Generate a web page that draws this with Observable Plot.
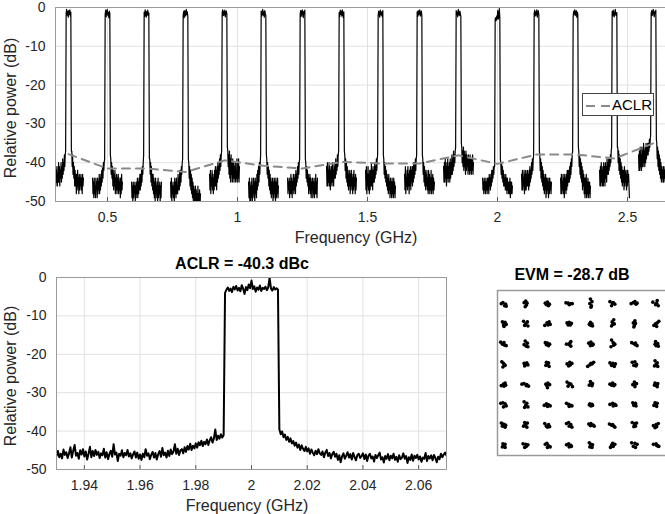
<!DOCTYPE html>
<html><head><meta charset="utf-8">
<script src="https://cdn.jsdelivr.net/npm/d3@7"></script>
<script src="https://cdn.jsdelivr.net/npm/@observablehq/plot@0.6"></script>
<style>
html,body{margin:0;padding:0;background:#fff;overflow:hidden;width:665px;height:514px;}
#wrap{position:relative;width:665px;height:514px;overflow:hidden;font-family:"Liberation Sans",Arial,sans-serif;color:#262626;}
.pane{position:absolute;}
.pane svg{max-width:none !important;}
.lbl{position:absolute;font-size:16px;white-space:nowrap;transform:translate(-50%,-50%);line-height:1;}
.ylbl{position:absolute;font-size:16px;white-space:nowrap;transform:translate(-50%,-50%) rotate(-90deg);line-height:1;}
.ttl{position:absolute;font-size:16px;font-weight:bold;white-space:nowrap;transform:translate(-50%,-50%);color:#000;line-height:1;}
#legend{position:absolute;left:582px;top:93px;width:72px;height:23px;background:#fff;border:1px solid #444;box-sizing:border-box;}
#legend span{position:absolute;left:29px;top:3px;font-size:15px;color:#000;line-height:1;}
#legend svg{position:absolute;left:2px;top:10px;}
</style></head>
<body><div id="wrap">
<div class="pane" id="top" style="left:0;top:0"></div>
<div class="pane" id="bot" style="left:0;top:270px"></div>
<div class="pane" id="evm" style="left:480px;top:262px"></div>
<div id="legend"><svg width="26" height="4"><line x1="1" y1="2" x2="25" y2="2" stroke="#8a8a8a" stroke-width="2" stroke-dasharray="9,6"/></svg><span>ACLR</span></div>
<div class="ylbl" style="left:11px;top:108px">Relative power (dB)</div>
<div class="lbl" style="left:356px;top:238px">Frequency (GHz)</div>
<div class="ttl" style="left:242px;top:264px">ACLR = -40.3 dBc</div>
<div class="ylbl" style="left:11px;top:376px">Relative power (dB)</div>
<div class="lbl" style="left:247px;top:506px">Frequency (GHz)</div>
<div class="ttl" style="left:572px;top:275px">EVM = -28.7 dB</div>
</div>
<script>
// ---------- top: multi-channel spectrum ----------
const topXTicks = [0.5, 1, 1.5, 2, 2.5];
const powerTicks = [0, -10, -20, -30, -40, -50];
const chCenters = [0.35, 0.5, 0.65, 0.8, 0.95, 1.1, 1.25, 1.4, 1.55, 1.7, 1.85, 2.0, 2.15, 2.3, 2.45, 2.6];
const aclrValues = [-37.8, -41.5, -41.5, -42.4, -39.4, -40.8, -41.5, -39.8, -40.2, -40.2, -38.1, -40.3, -37.9, -37.9, -38.9, -35.0];
const chStep = 0.0016;      // sample spacing of the per-channel traces (GHz)
const chEdge = 0.011;       // offset of the channel shoulder samples (GHz)
const chHalfBw = 0.009;     // offset of first/last in-band sample (GHz)
const chLeft = [
[-41,-46,-42,-45,-40,-46,-42,-45,-41,-46,-43,-45,-40,-45,-41,-46,-42,-44,-40,-45,-41,-44,-39,-43,-40,-42,-38,-41,-38],
[-44,-48,-45,-49,-44,-48,-46,-49,-44,-47,-45,-49,-44,-48,-45,-47,-43,-48,-44,-47,-43,-46,-42,-45,-41,-44,-40,-42,-40],
[-45,-49,-46,-50,-45,-49,-46,-48,-45,-50,-46,-49,-45,-48,-44,-49,-45,-48,-44,-47,-43,-47,-43,-46,-42,-45,-41,-43,-40],
[-45,-49,-44,-50,-46,-48,-45,-49,-46,-50,-44,-48,-45,-49,-44,-48,-46,-48,-43,-47,-44,-47,-42,-46,-42,-45,-41,-43,-40],
[-43,-47,-42,-48,-44,-46,-42,-47,-43,-48,-44,-47,-42,-46,-41,-46,-42,-47,-41,-45,-40,-44,-41,-43,-39,-42,-38,-41,-38],
[-45,-49,-44,-50,-46,-50,-45,-49,-44,-50,-46,-48,-44,-49,-45,-50,-44,-48,-45,-49,-43,-47,-42,-46,-41,-45,-40,-43,-40],
[-44,-48,-45,-47,-44,-49,-45,-48,-43,-48,-44,-49,-45,-47,-43,-48,-44,-47,-43,-48,-42,-46,-43,-45,-41,-44,-40,-43,-40],
[-41,-46,-40,-46,-42,-45,-40,-46,-41,-47,-42,-45,-41,-46,-40,-45,-42,-46,-40,-44,-41,-44,-39,-43,-40,-42,-38,-41,-38],
[-42,-47,-41,-48,-43,-46,-41,-47,-43,-48,-42,-47,-42,-46,-40,-46,-42,-47,-41,-45,-42,-45,-40,-44,-41,-43,-39,-42,-39],
[-43,-47,-41,-48,-44,-46,-42,-47,-41,-46,-43,-48,-42,-46,-41,-47,-42,-45,-41,-46,-41,-45,-40,-44,-40,-43,-39,-42,-39],
[-41,-45,-40,-45,-39,-44,-41,-46,-40,-44,-39,-45,-41,-44,-40,-45,-39,-44,-40,-43,-38,-43,-39,-42,-37,-41,-38,-40,-37],
[-44,-47,-45,-48,-44,-47,-45,-48,-44,-47,-45,-48,-44,-47,-44,-48,-43,-46,-44,-47,-43,-46,-42,-45,-42,-44,-41,-43,-41],
[-43,-47,-42,-47,-44,-46,-42,-48,-43,-47,-42,-47,-43,-46,-42,-46,-43,-47,-42,-46,-41,-45,-42,-44,-40,-43,-39,-42,-39],
[-44,-48,-43,-48,-45,-47,-43,-48,-44,-49,-43,-47,-44,-48,-43,-47,-42,-46,-42,-45,-42,-45,-41,-44,-40,-43,-39,-41,-38],
[-42,-46,-41,-46,-40,-45,-42,-46,-41,-46,-40,-45,-41,-46,-40,-44,-41,-45,-39,-43,-40,-43,-39,-42,-39,-41,-38,-40,-37],
[-38,-42,-37,-42,-36,-41,-38,-42,-36,-41,-37,-41,-35,-40,-37,-41,-36,-40,-35,-39,-36,-38,-35,-38,-35,-37,-34,-36,-34]
];
const chEdgeL = [-37,-39,-38,-39,-37,-38,-39,-37,-38,-38,-36,-41,-38,-37,-36,-33];
const chTop = [
[-1.5,-0.5,-2,-1,-2.5,-0.8,-1.8,-0.6,-2.2,-1.2],
[-1.8,-0.7,-2.4,-1.1,-0.5,-2,-1.3,-2.6,-0.9,-1.6],
[-1.2,-2.3,-0.6,-1.7,-2.5,-1,-1.9,-0.7,-2.1,-1.4],
[-2,-1,-2.6,-0.8,-1.5,-2.2,-0.5,-1.8,-1.1,-2.4],
[-1.4,-0.6,-2.1,-1,-1.9,-0.7,-2.4,-1.2,-0.9,-1.7],
[-0.9,-2.2,-1.4,-0.5,-2,-1.1,-2.5,-0.8,-1.6,-2.1],
[-1.7,-0.8,-2.3,-1.2,-0.6,-1.9,-2.6,-1,-1.5,-0.7],
[-1.3,-2.4,-0.7,-1.8,-1,-2.2,-0.6,-1.5,-2.6,-1.1],
[-2.1,-0.9,-1.6,-2.5,-0.7,-1.4,-2,-1.1,-2.4,-0.8],
[-1.1,-2.3,-0.8,-1.9,-1.4,-0.6,-2.2,-1.7,-0.9,-2],
[-0.8,-1.9,-1.2,-2.4,-0.5,-1.6,-2.1,-0.9,-1.5,-2.3],
[-3,-2.6,-3.4,-2.2,-2.9,-0.8,-3,-2.4,-0.3,-2.8],
[-1.5,-0.7,-2.2,-1.1,-1.9,-0.6,-2.5,-1.3,-0.8,-2],
[-2.3,-1,-1.7,-0.6,-2.1,-1.4,-0.8,-2.5,-1.2,-1.8],
[-1,-2.2,-0.7,-1.6,-2.4,-1.2,-0.5,-1.9,-2.1,-1.3],
[-1.6,-0.8,-2.1,-1.2,-0.5,-1.8,-2.4,-1,-1.5,-0.7]
];
const chEdgeR = [-37,-38,-39,-39,-36,-38,-39,-37,-38,-38,-35,-39,-37,-36,-36,-34];
const chRight = [
[-37,-41,-38,-43,-40,-44,-41,-46,-42,-46,-43,-48,-43,-47,-42,-46,-44,-48,-43,-47,-44,-46,-43,-47,-44,-48,-43,-46,-44],
[-39,-43,-40,-44,-41,-46,-42,-47,-43,-46,-42,-48,-44,-47,-43,-48,-44,-47,-43,-48,-45,-47,-44,-49,-44,-48,-43,-47,-45],
[-39,-43,-40,-45,-41,-46,-43,-47,-43,-48,-44,-49,-45,-50,-44,-48,-46,-49,-45,-50,-44,-49,-46,-48,-45,-50,-46,-49,-45],
[-40,-44,-41,-46,-42,-47,-43,-48,-44,-49,-45,-50,-46,-51,-47,-52,-46,-51,-47,-52,-48,-51,-46,-52,-48,-51,-47,-52,-48],
[-37,-41,-38,-43,-37,-44,-39,-45,-38,-43,-40,-45,-39,-44,-40,-45,-41,-44,-40,-45,-42,-44,-39,-45,-40,-44,-39,-45,-41],
[-39,-43,-40,-44,-41,-46,-42,-47,-43,-48,-44,-49,-45,-48,-44,-50,-45,-49,-44,-48,-45,-50,-44,-49,-45,-48,-44,-49,-46],
[-40,-44,-41,-45,-42,-46,-43,-48,-44,-47,-43,-48,-44,-49,-45,-47,-44,-49,-45,-48,-44,-49,-45,-48,-43,-48,-45,-49,-44],
[-38,-42,-39,-44,-40,-45,-41,-46,-42,-47,-43,-46,-42,-48,-43,-47,-42,-46,-44,-48,-43,-47,-42,-46,-44,-48,-43,-47,-44],
[-39,-43,-40,-44,-41,-45,-42,-46,-43,-47,-44,-48,-43,-47,-45,-49,-44,-48,-45,-49,-44,-48,-45,-49,-44,-48,-45,-49,-46],
[-39,-43,-40,-45,-41,-46,-42,-47,-43,-46,-42,-47,-44,-48,-42,-47,-43,-48,-44,-47,-42,-48,-44,-47,-43,-48,-44,-47,-45],
[-36,-40,-37,-41,-36,-42,-37,-41,-38,-43,-37,-42,-38,-41,-39,-43,-38,-42,-39,-43,-38,-42,-39,-43,-39,-42,-38,-43,-40],
[-40,-43,-40,-44,-41,-45,-42,-46,-43,-46,-44,-47,-43,-47,-44,-48,-44,-47,-45,-48,-45,-48,-44,-49,-45,-48,-45,-48,-46],
[-38,-42,-39,-44,-40,-45,-41,-46,-42,-47,-43,-48,-44,-47,-43,-49,-44,-48,-44,-47,-45,-49,-44,-48,-44,-47,-45,-48,-45],
[-37,-41,-38,-43,-39,-44,-40,-45,-41,-47,-42,-46,-43,-48,-44,-49,-44,-48,-43,-49,-45,-48,-44,-49,-45,-48,-45,-49,-46],
[-36,-40,-37,-42,-38,-43,-39,-44,-40,-45,-41,-46,-42,-45,-42,-47,-41,-46,-42,-45,-43,-47,-42,-46,-42,-45,-43,-46,-49],
[-35,-39,-36,-41,-37,-42,-38,-43,-39,-44,-40,-45,-41,-44,-42,-45,-41,-45,-42,-44,-41,-45,-42,-44,-41,-45,-42,-44,-42]
];

// ---------- bottom-left: zoom on the 2 GHz channel ----------
const zoomXTicks = [1.94, 1.96, 1.98, 2, 2.02, 2.04, 2.06];
const zoomStep = 0.0005;
const zoomEdgeL = 1.990, zoomInL = 1.9905, zoomInR = 2.0095, zoomEdgeR = 2.010;
const zoomLeft = [
-46.5,-45.2,-46.8,-45.9,-47.1,-44.8,-46.2,-45.5,-47.0,-45.8,
-44.2,-46.9,-45.1,-43.6,-46.4,-45.7,-47.2,-45.0,-46.1,-44.7,
-46.6,-45.3,-47.4,-45.9,-44.1,-46.8,-45.2,-46.5,-44.9,-46.2,
-45.4,-47.0,-45.8,-46.3,-44.6,-46.9,-45.5,-47.3,-46.0,-45.1,
-46.7,-43.4,-46.1,-45.6,-47.8,-45.9,-46.4,-45.0,-46.8,-45.7,
-46.3,-44.9,-46.6,-45.8,-47.1,-46.0,-45.3,-46.9,-45.6,-47.2,
-46.1,-47.5,-45.9,-46.8,-44.7,-46.4,-45.8,-47.3,-46.2,-45.4,
-46.9,-45.7,-47.4,-46.0,-45.2,-46.7,-44.4,-46.3,-45.6,-46.9,
-45.1,-46.5,-44.8,-46.0,-45.3,-43.4,-45.9,-44.6,-46.2,-45.0,
-44.7,-45.8,-44.2,-45.4,-43.9,-44.8,-43.3,-44.9,-43.8,-44.5,
-43.2,-44.3,-42.9,-43.7,-42.5,-43.9,-42.8,-43.4,-42.2,-43.6,
-42.4,-41.6,-43.0,-41.9,-39.6,-42.3,-41.2,-42.0,-40.8,-41.7,
-41.0];
const zoomTop = [
-4.0,-3.2,-2.6,-3.5,-2.9,-3.8,-2.4,-3.1,-2.2,-3.4,
-2.7,-3.6,-2.0,-2.9,-4.3,-2.5,-3.3,-1.8,-2.8,-0.8,
-3.0,-2.3,-3.7,-2.6,-3.2,-2.1,-3.5,-2.7,-3.0,-2.4,
-3.3,-2.6,-0.1,-2.9,-3.4,-2.5,-3.1,-2.8,-3.2];
const zoomRight = [
-39.5,
-40.8,-40.1,-41.6,-40.9,-42.3,-41.5,-42.8,-41.9,-43.2,
-42.6,-43.8,-43.0,-44.3,-43.5,-44.9,-43.7,-44.6,-45.2,-44.1,
-45.3,-44.5,-45.9,-44.8,-45.6,-46.3,-45.1,-46.0,-44.7,-45.8,
-46.2,-45.3,-46.8,-45.6,-44.9,-46.5,-45.7,-47.1,-46.0,-45.4,
-46.7,-45.9,-47.5,-46.3,-48.1,-46.6,-45.8,-47.2,-46.4,-45.5,
-46.9,-46.0,-47.4,-45.7,-46.8,-47.6,-46.2,-45.9,-47.0,-46.5,
-45.8,-47.3,-46.1,-47.8,-46.4,-45.9,-47.1,-46.6,-47.9,-46.2,
-47.0,-46.3,-45.6,-47.4,-46.8,-48.2,-46.5,-47.2,-46.0,-47.6,
-46.4,-47.1,-45.9,-47.5,-46.7,-48.0,-46.3,-47.3,-46.9,-45.8,
-47.2,-46.5,-48.3,-46.8,-47.5,-46.1,-47.7,-46.4,-47.0,-46.2,
-47.4,-46.6,-48.0,-46.9,-47.2,-45.7,-47.8,-46.5,-47.1,-46.3,
-47.6,-46.2,-47.0,-48.1,-46.7,-47.3,-45.9,-46.8,-46.1,-45.6,
-46.4];

// ---------- bottom-right: 64-QAM constellation ----------
const qamLevels = [-7, -5, -3, -1, 1, 3, 5, 7];
const offI = [
[-.1,.15,-.25,.05,.2],[0,.12,-.15,.05,-.05],[-.2,0,.18,.1,-.1],[-.3,-.1,.1,.28,0],[-.05,.1,-.1,.05,0],[-.25,0,.2,-.1,.05],[-.3,-.1,.15,.05,.25],[-.3,.1,-.05,.2,.05],
[-.15,.1,-.05,.2,0],[-.2,.15,0,.2,-.1],[-.25,-.05,.15,.05,.25],[-.2,0,.2,-.1,.1],[-.05,.1,0,-.15,.15],[.1,-.05,.15,-.1,0],[.05,-.1,.1,0,-.05],[.25,.1,-.05,-.2,.05],
[-.3,-.15,.05,.2,0],[-.05,.15,-.15,.05,.2],[-.2,0,.2,.1,-.1],[.15,-.25,0,.15,.05],[-.2,0,.2,-.05,.15],[-.1,.05,.2,-.15,.1],[-.25,-.05,.1,.25,.1],[-.05,.15,0,.2,-.1],
[-.2,-.05,.05,-.1,.1],[-.15,.1,0,.2,-.1],[-.1,.1,0,.15,-.15],[-.2,.05,.25,-.05,.1],[-.3,-.1,.1,.25,0],[-.25,0,.25,-.1,.15],[-.2,.05,.2,-.05,.15],[-.1,.1,0,-.15,.15],
[-.25,-.05,.1,0,.15],[-.35,-.15,.05,.25,.1],[-.15,.05,.2,0,-.05],[-.2,0,.15,.3,-.1],[-.05,.15,-.15,.1,0],[-.25,0,.2,.1,-.1],[-.15,.05,.2,0,.05],[-.1,.15,.05,-.15,.1],
[-.3,-.1,.1,.2,-.05],[-.15,.1,0,.2,-.1],[-.3,-.1,.1,.25,0],[-.25,-.05,.15,0,.25],[-.1,.1,0,.15,-.15],[-.25,0,.2,.3,.05],[-.15,.1,-.05,.15,0],[-.1,.1,0,-.2,.05],
[-.25,-.05,.15,-.15,.1],[-.1,.15,-.05,.1,-.2],[-.25,-.1,.1,.2,0],[-.25,-.05,.15,0,.25],[-.2,0,.2,.3,-.05],[-.3,-.1,.1,.2,0],[-.2,0,.2,-.05,.1],[-.25,0,.2,.05,-.1],
[-.1,.1,0,-.15,.1],[-.25,0,.2,.05,-.1],[-.2,-.05,.1,.25,0],[-.25,-.05,.15,0,.2],[-.15,0,.15,-.1,.1],[-.2,.05,.2,0,-.1],[-.25,.05,.25,-.1,.1],[-.25,0,.15,.25,.05]
];
const offQ = [
[.1,-.05,0,-.2,-.25],[.25,.05,.1,-.15,-.3],[.05,.15,-.05,-.2,-.1],[.08,.05,-.02,0,-.1],[.45,.2,0,-.2,-.35],[.2,.05,-.05,-.2,.1],[0,.1,-.05,.2,.05],[.15,.3,-.1,-.2,.05],
[.2,.15,-.1,-.05,-.25],[.25,.2,0,-.2,-.15],[-.15,.1,.2,-.1,-.05],[.1,.15,.05,-.1,-.1],[.15,0,-.15,-.05,-.2],[.4,.2,0,-.2,-.05],[.3,.1,.05,-.15,-.3],[.25,.1,0,-.15,-.25],
[.2,0,-.1,-.15,.15],[.3,.1,-.05,-.2,-.25],[.15,.1,0,-.15,-.05],[.25,0,-.05,-.2,.1],[.1,.2,0,-.15,-.1],[.4,.15,0,-.25,-.1],[.15,.05,-.05,-.15,.1],[.25,.05,-.15,-.2,0],
[.25,.1,-.05,-.25,-.1],[.1,.15,0,-.05,-.15],[.2,.15,0,-.2,-.1],[.05,.2,.1,-.15,-.05],[-.2,-.05,.05,.2,.1],[.15,.1,.05,-.1,-.2],[.2,.25,0,-.1,-.15],[.35,.15,0,-.15,-.2],
[-.1,.05,.15,-.15,-.05],[.05,.1,-.1,-.15,0],[.05,.15,0,-.3,-.1],[.25,.1,.05,-.2,-.15],[.3,.1,-.05,-.1,.05],[.05,.15,0,-.1,-.05],[0,.05,.1,.25,-.2],[.15,.1,-.1,-.05,-.2],
[.15,.2,.1,-.1,-.2],[.3,.15,-.05,-.2,-.25],[-.05,.1,0,-.1,-.15],[.15,.05,-.05,-.15,-.1],[.1,.05,-.1,-.05,0],[.05,.15,.05,-.05,-.1],[.2,.15,-.05,-.1,.05],[.2,.15,0,-.05,-.15],
[.2,.1,0,-.1,-.2],[.25,.2,0,-.2,-.1],[.15,-.1,.05,-.15,-.2],[.15,.25,.05,-.1,-.2],[.1,.15,0,-.1,-.05],[.1,0,-.1,-.2,.05],[.25,.15,.2,-.15,-.1],[-.05,.05,.15,-.15,-.25],
[.15,.1,0,-.15,-.2],[.15,.1,.05,-.1,-.2],[.1,.2,-.05,-.15,-.2],[.05,.15,0,-.15,-.1],[.25,.1,.05,-.15,-.2],[-.2,-.1,.1,.2,0],[.25,.2,.1,-.1,-.2],[.1,.15,-.05,-.1,0]
];

// ---------- build tables ----------
const topRows = [];
chCenters.forEach((fc, c) => {
  const L = chLeft[c], T = chTop[c], R = chRight[c];
  L.forEach((p, i) => topRows.push({c, f: fc - chEdge - chStep * (L.length - i), p}));
  topRows.push({c, f: fc - chEdge, p: chEdgeL[c]});
  T.forEach((p, k) => topRows.push({c, f: fc - chHalfBw + (2 * chHalfBw) * k / (T.length - 1), p}));
  topRows.push({c, f: fc + chEdge, p: chEdgeR[c]});
  R.forEach((p, i) => topRows.push({c, f: fc + chEdge + chStep * (i + 1), p}));
});
const aclrRows = chCenters.map((f, i) => ({f, p: aclrValues[i]}));

const zoomRows = [];
zoomLeft.forEach((p, i) => zoomRows.push({f: zoomEdgeL - zoomStep * (zoomLeft.length - 1 - i), p}));
zoomTop.forEach((p, k) => zoomRows.push({f: zoomInL + (zoomInR - zoomInL) * k / (zoomTop.length - 1), p}));
zoomRight.forEach((p, i) => zoomRows.push({f: zoomEdgeR + zoomStep * i, p}));

const symbols = [];
for (let r = 0; r < 8; r++) for (let col = 0; col < 8; col++) {
  const k = r * 8 + col;
  offI[k].forEach((dI, s) => symbols.push({i: qamLevels[col] + dI, q: qamLevels[7 - r] + offQ[k][s]}));
}

const fmt = d => String(d);
const baseStyle = {fontFamily: "'Liberation Sans', Arial, sans-serif", fontSize: "14px", color: "#262626", background: "transparent", overflow: "visible", maxWidth: "none"};
const gridCol = "#e2e2e2", frameCol = "#9a9a9a";

// top plot
const topPlot = Plot.plot({
  width: 690, height: 250, marginLeft: 55, marginRight: 11, marginTop: 7, marginBottom: 49,
  style: baseStyle,
  x: {domain: [0.3, 2.7]},
  y: {domain: [-50, 0]},
  marks: [
    Plot.gridX(topXTicks, {stroke: gridCol, strokeOpacity: 1}),
    Plot.gridY(powerTicks, {stroke: gridCol, strokeOpacity: 1}),
    Plot.ruleX(topXTicks, {y1: -50, y2: -49, stroke: "#555"}),
    Plot.line(topRows, {x: "f", y: "p", z: "c", stroke: "#000", strokeWidth: 1.2, clip: true}),
    Plot.line(aclrRows, {x: "f", y: "p", stroke: "#8a8a8a", strokeWidth: 2, strokeDasharray: "8,6", clip: true}),
    Plot.frame({stroke: frameCol}),
    Plot.axisX(topXTicks, {tickSize: 0, tickPadding: 11, tickFormat: fmt, label: null}),
    Plot.axisY(powerTicks, {tickSize: 0, tickPadding: 10, tickFormat: fmt, label: null})
  ]
});
document.getElementById("top").appendChild(topPlot);

// bottom-left zoom
const botPlot = Plot.plot({
  width: 460, height: 244, marginLeft: 56, marginRight: 14, marginTop: 7, marginBottom: 45,
  style: baseStyle,
  x: {domain: [1.93, 2.07]},
  y: {domain: [-50, 0]},
  marks: [
    Plot.gridX(zoomXTicks, {stroke: gridCol, strokeOpacity: 1}),
    Plot.gridY(powerTicks, {stroke: gridCol, strokeOpacity: 1}),
    Plot.ruleX(zoomXTicks, {y1: -50, y2: -49, stroke: "#555"}),
    Plot.line(zoomRows, {x: "f", y: "p", stroke: "#000", strokeWidth: 2, clip: true}),
    Plot.frame({stroke: frameCol}),
    Plot.axisX(zoomXTicks, {tickSize: 0, tickPadding: 11, tickFormat: fmt, label: null}),
    Plot.axisY(powerTicks, {tickSize: 0, tickPadding: 10, tickFormat: fmt, label: null})
  ]
});
document.getElementById("bot").appendChild(botPlot);

// constellation
const evmPlot = Plot.plot({
  width: 203, height: 200, marginLeft: 17, marginRight: 10, marginTop: 28, marginBottom: 7,
  style: baseStyle,
  x: {domain: [-7.6, 8.6], axis: null},
  y: {domain: [-8.0, 8.3], axis: null},
  marks: [
    Plot.dot(symbols, {x: "i", y: "q", r: 1.8, fill: "#000", stroke: "none"}),
    Plot.frame({stroke: frameCol, strokeWidth: 1.5})
  ]
});
document.getElementById("evm").appendChild(evmPlot);
</script>
</body></html>
